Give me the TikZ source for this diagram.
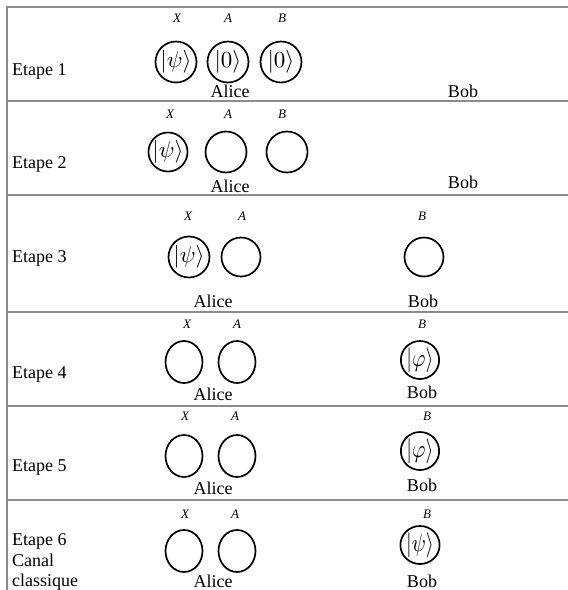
\documentclass[tikz,border=0pt]{standalone}
\usepackage{fontspec}
\setmainfont{Liberation Serif}
\usetikzlibrary{shapes.geometric}
\newcommand\ketbig[1]{\scalebox{2.3}{$|#1\rangle$}}
\newcommand\ketbob[1]{\scalebox{2.05}[2.5]{$|#1\rangle$}}
\tikzset{
  qb/.style={draw, circle, line width=1.7pt, minimum size=41pt, inner sep=0pt},
  qbe/.style={draw, ellipse, line width=1.7pt, minimum width=37pt, minimum height=42pt, inner sep=0pt},
  qbb/.style={draw, ellipse, line width=1.7pt, minimum width=32pt, minimum height=38pt, inner sep=0pt},
  lab/.style={font=\fontsize{13}{15}\selectfont\itshape, anchor=base, inner sep=0pt},
  txt/.style={font=\fontsize{18}{21}\selectfont, anchor=base, inner sep=0pt},
  etape/.style={font=\fontsize{18}{21}\selectfont, anchor=base west, inner sep=0pt},
  rule/.style={draw=black!45, line width=1.5pt}
}
\begin{document}
\begin{tikzpicture}[x=1pt,y=-1pt]
\useasboundingbox (0,0) rectangle (568,590);
% table rules
\draw[rule] (7,7) -- (568,7);
\draw[rule] (7,101) -- (568,101);
\draw[rule] (7,195) -- (568,195);
\draw[rule] (7,312) -- (568,312);
\draw[rule] (7,406) -- (568,406);
\draw[rule] (7,500) -- (568,500);
\draw[rule] (7,6.25) -- (7,590);

% Row 1
\node[etape] (e1) at (12,75) {Etape 1};
\node[lab] (x1) at (177,22) {X};
\node[lab] (a1) at (228,22) {A};
\node[lab] (b1) at (282,22) {B};
\node[qb] (cx1) at (176,62) {\ketbig{\psi}};
\node[qb] (ca1) at (228,62) {\ketbig{0}};
\node[qb] (cb1) at (281,62) {\ketbig{0}};
\node[txt] (al1) at (230,97) {Alice};
\node[txt] (bo1) at (463,97) {Bob};

% Row 2
\node[etape] (e2) at (12,168) {Etape 2};
\node[lab] (x2) at (170,118) {X};
\node[lab] (a2) at (228,118) {A};
\node[lab] (b2) at (282,118) {B};
\node[qb, minimum size=39pt] (cx2) at (168,152) {\ketbig{\psi}};
\node[qb] (ca2) at (226,152) {};
\node[qb] (cb2) at (287,152) {};
\node[txt] (al2) at (230,192) {Alice};
\node[txt] (bo2) at (463,188) {Bob};

% Row 3
\node[etape] (e3) at (12,262) {Etape 3};
\node[lab] (x3) at (188,220) {X};
\node[lab] (a3) at (242,220) {A};
\node[lab] (b3) at (422,220) {B};
\node[qb] (cx3) at (189,257) {\ketbig{\psi}};
\node[qb, minimum size=39pt] (ca3) at (241,257) {};
\node[qb, minimum size=39pt] (cb3) at (424,257) {};
\node[txt] (al3) at (213,307) {Alice};
\node[txt] (bo3) at (423,307) {Bob};

% Row 4
\node[etape] (e4) at (12,378) {Etape 4};
\node[lab] (x4) at (187,328) {X};
\node[lab] (a4) at (237,328) {A};
\node[lab] (b4) at (422,328) {B};
\node[qbe] (cx4) at (184,362) {};
\node[qbe] (ca4) at (237,362) {};
\node[qbb] (cb4) at (420,360) {\ketbob{\varphi}};
\node[txt] (al4) at (213,400) {Alice};
\node[txt] (bo4) at (422,398) {Bob};

% Row 5
\node[etape] (e5) at (12,471) {Etape 5};
\node[lab] (x5) at (185,420) {X};
\node[lab] (a5) at (235,420) {A};
\node[lab] (b5) at (427,420) {B};
\node[qbe] (cx5) at (184,456) {};
\node[qbe] (ca5) at (237,456) {};
\node[qbb] (cb5) at (420,451) {\ketbob{\varphi}};
\node[txt] (al5) at (213,494) {Alice};
\node[txt] (bo5) at (422,491) {Bob};

% Row 6
\node[etape] (e6a) at (12,545) {Etape 6};
\node[etape] (e6b) at (12,566) {Canal};
\node[etape] (e6c) at (12,586) {classique};
\node[lab] (x6) at (185,518) {X};
\node[lab] (a6) at (235,518) {A};
\node[lab] (b6) at (427,518) {B};
\node[qbe] (cx6) at (184,551) {};
\node[qbe] (ca6) at (237,551) {};
\node[qbb] (cb6) at (420,545) {\ketbob{\psi}};
\node[txt] (al6) at (213,587) {Alice};
\node[txt] (bo6) at (422,587) {Bob};
\end{tikzpicture}
\end{document}
